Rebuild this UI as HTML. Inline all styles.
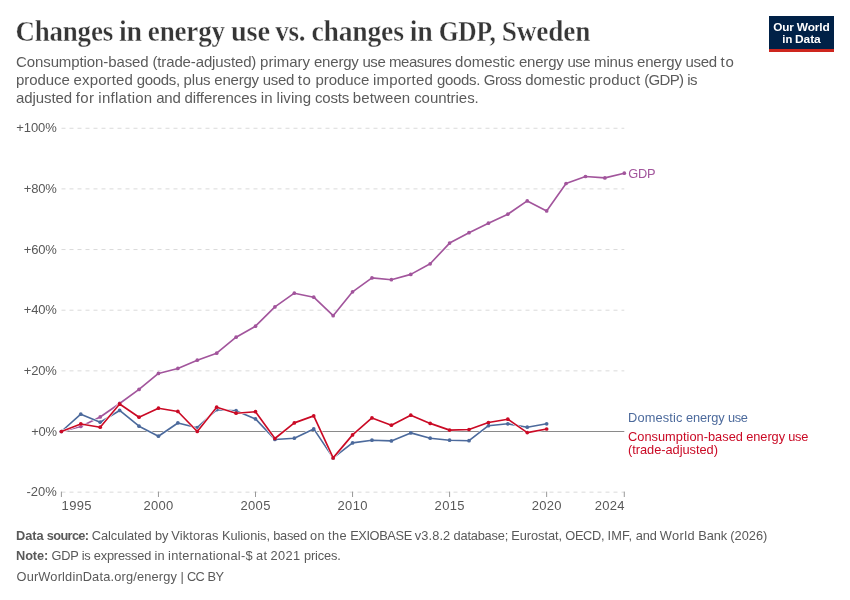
<!DOCTYPE html>
<html><head><meta charset="utf-8"><title>Changes in energy use vs. changes in GDP, Sweden</title>
<style>
html,body{margin:0;padding:0;background:#fff;}
body{width:850px;height:600px;position:relative;overflow:hidden;font-family:"Liberation Sans",sans-serif;}
svg{position:absolute;left:0;top:0;will-change:transform;}
text{white-space:pre;}
</style></head><body>
<svg width="850" height="600" viewBox="0 0 850 600">
<line x1="61.5" x2="624.3" y1="128.25" y2="128.25" stroke="#dadada" stroke-width="1" stroke-dasharray="4,4"/>
<line x1="61.5" x2="624.3" y1="188.9" y2="188.9" stroke="#dadada" stroke-width="1" stroke-dasharray="4,4"/>
<line x1="61.5" x2="624.3" y1="249.55" y2="249.55" stroke="#dadada" stroke-width="1" stroke-dasharray="4,4"/>
<line x1="61.5" x2="624.3" y1="310.2" y2="310.2" stroke="#dadada" stroke-width="1" stroke-dasharray="4,4"/>
<line x1="61.5" x2="624.3" y1="370.85" y2="370.85" stroke="#dadada" stroke-width="1" stroke-dasharray="4,4"/>
<line x1="61.5" x2="624.3" y1="492.15" y2="492.15" stroke="#dadada" stroke-width="1" stroke-dasharray="4,4"/>
<line x1="61.5" x2="624.3" y1="431.5" y2="431.5" stroke="#8a8a8a" stroke-width="1"/>
<line x1="61.4" x2="61.4" y1="491.6" y2="497" stroke="#999999" stroke-width="1"/>
<line x1="158.45" x2="158.45" y1="491.6" y2="497" stroke="#999999" stroke-width="1"/>
<line x1="255.5" x2="255.5" y1="491.6" y2="497" stroke="#999999" stroke-width="1"/>
<line x1="352.55" x2="352.55" y1="491.6" y2="497" stroke="#999999" stroke-width="1"/>
<line x1="449.6" x2="449.6" y1="491.6" y2="497" stroke="#999999" stroke-width="1"/>
<line x1="546.65" x2="546.65" y1="491.6" y2="497" stroke="#999999" stroke-width="1"/>
<line x1="624.29" x2="624.29" y1="491.6" y2="497" stroke="#999999" stroke-width="1"/>
<path d="M61.4,431.5 L80.81,426.45 L100.22,416.95 L119.63,403.45 L139.04,389.45 L158.45,373.45 L177.86,368.45 L197.27,360.2 L216.68,353.2 L236.09,337.2 L255.5,326.2 L274.91,306.9 L294.32,293.2 L313.73,297.2 L333.14,315.7 L352.55,291.8 L371.96,277.9 L391.37,279.7 L410.78,274.4 L430.19,263.8 L449.6,243.1 L469.01,232.7 L488.42,223.2 L507.83,214.2 L527.24,200.9 L546.65,210.9 L566.06,183.5 L585.47,176.5 L604.88,177.9 L624.29,173.2" fill="none" stroke="#fff" stroke-width="2.6" stroke-linejoin="round" stroke-linecap="round"/>
<path d="M61.4,431.5 L80.81,426.45 L100.22,416.95 L119.63,403.45 L139.04,389.45 L158.45,373.45 L177.86,368.45 L197.27,360.2 L216.68,353.2 L236.09,337.2 L255.5,326.2 L274.91,306.9 L294.32,293.2 L313.73,297.2 L333.14,315.7 L352.55,291.8 L371.96,277.9 L391.37,279.7 L410.78,274.4 L430.19,263.8 L449.6,243.1 L469.01,232.7 L488.42,223.2 L507.83,214.2 L527.24,200.9 L546.65,210.9 L566.06,183.5 L585.47,176.5 L604.88,177.9 L624.29,173.2" fill="none" stroke="#a2559c" stroke-width="1.65" stroke-linejoin="round" stroke-linecap="round"/>
<circle cx="61.4" cy="431.5" r="1.85" fill="#a2559c"/><circle cx="80.81" cy="426.45" r="1.85" fill="#a2559c"/><circle cx="100.22" cy="416.95" r="1.85" fill="#a2559c"/><circle cx="119.63" cy="403.45" r="1.85" fill="#a2559c"/><circle cx="139.04" cy="389.45" r="1.85" fill="#a2559c"/><circle cx="158.45" cy="373.45" r="1.85" fill="#a2559c"/><circle cx="177.86" cy="368.45" r="1.85" fill="#a2559c"/><circle cx="197.27" cy="360.2" r="1.85" fill="#a2559c"/><circle cx="216.68" cy="353.2" r="1.85" fill="#a2559c"/><circle cx="236.09" cy="337.2" r="1.85" fill="#a2559c"/><circle cx="255.5" cy="326.2" r="1.85" fill="#a2559c"/><circle cx="274.91" cy="306.9" r="1.85" fill="#a2559c"/><circle cx="294.32" cy="293.2" r="1.85" fill="#a2559c"/><circle cx="313.73" cy="297.2" r="1.85" fill="#a2559c"/><circle cx="333.14" cy="315.7" r="1.85" fill="#a2559c"/><circle cx="352.55" cy="291.8" r="1.85" fill="#a2559c"/><circle cx="371.96" cy="277.9" r="1.85" fill="#a2559c"/><circle cx="391.37" cy="279.7" r="1.85" fill="#a2559c"/><circle cx="410.78" cy="274.4" r="1.85" fill="#a2559c"/><circle cx="430.19" cy="263.8" r="1.85" fill="#a2559c"/><circle cx="449.6" cy="243.1" r="1.85" fill="#a2559c"/><circle cx="469.01" cy="232.7" r="1.85" fill="#a2559c"/><circle cx="488.42" cy="223.2" r="1.85" fill="#a2559c"/><circle cx="507.83" cy="214.2" r="1.85" fill="#a2559c"/><circle cx="527.24" cy="200.9" r="1.85" fill="#a2559c"/><circle cx="546.65" cy="210.9" r="1.85" fill="#a2559c"/><circle cx="566.06" cy="183.5" r="1.85" fill="#a2559c"/><circle cx="585.47" cy="176.5" r="1.85" fill="#a2559c"/><circle cx="604.88" cy="177.9" r="1.85" fill="#a2559c"/><circle cx="624.29" cy="173.2" r="1.85" fill="#a2559c"/>
<path d="M61.4,431.5 L80.81,414.2 L100.22,422.2 L119.63,410.45 L139.04,426.2 L158.45,436.2 L177.86,422.95 L197.27,427.7 L216.68,409.7 L236.09,410.7 L255.5,418.9 L274.91,439.5 L294.32,438.2 L313.73,428.9 L333.14,457.9 L352.55,442.9 L371.96,440.2 L391.37,440.9 L410.78,432.9 L430.19,438.2 L449.6,440.2 L469.01,440.7 L488.42,425.7 L507.83,423.8 L527.24,427.2 L546.65,423.8" fill="none" stroke="#fff" stroke-width="2.6" stroke-linejoin="round" stroke-linecap="round"/>
<path d="M61.4,431.5 L80.81,414.2 L100.22,422.2 L119.63,410.45 L139.04,426.2 L158.45,436.2 L177.86,422.95 L197.27,427.7 L216.68,409.7 L236.09,410.7 L255.5,418.9 L274.91,439.5 L294.32,438.2 L313.73,428.9 L333.14,457.9 L352.55,442.9 L371.96,440.2 L391.37,440.9 L410.78,432.9 L430.19,438.2 L449.6,440.2 L469.01,440.7 L488.42,425.7 L507.83,423.8 L527.24,427.2 L546.65,423.8" fill="none" stroke="#4c6a9c" stroke-width="1.65" stroke-linejoin="round" stroke-linecap="round"/>
<circle cx="61.4" cy="431.5" r="1.85" fill="#4c6a9c"/><circle cx="80.81" cy="414.2" r="1.85" fill="#4c6a9c"/><circle cx="100.22" cy="422.2" r="1.85" fill="#4c6a9c"/><circle cx="119.63" cy="410.45" r="1.85" fill="#4c6a9c"/><circle cx="139.04" cy="426.2" r="1.85" fill="#4c6a9c"/><circle cx="158.45" cy="436.2" r="1.85" fill="#4c6a9c"/><circle cx="177.86" cy="422.95" r="1.85" fill="#4c6a9c"/><circle cx="197.27" cy="427.7" r="1.85" fill="#4c6a9c"/><circle cx="216.68" cy="409.7" r="1.85" fill="#4c6a9c"/><circle cx="236.09" cy="410.7" r="1.85" fill="#4c6a9c"/><circle cx="255.5" cy="418.9" r="1.85" fill="#4c6a9c"/><circle cx="274.91" cy="439.5" r="1.85" fill="#4c6a9c"/><circle cx="294.32" cy="438.2" r="1.85" fill="#4c6a9c"/><circle cx="313.73" cy="428.9" r="1.85" fill="#4c6a9c"/><circle cx="333.14" cy="457.9" r="1.85" fill="#4c6a9c"/><circle cx="352.55" cy="442.9" r="1.85" fill="#4c6a9c"/><circle cx="371.96" cy="440.2" r="1.85" fill="#4c6a9c"/><circle cx="391.37" cy="440.9" r="1.85" fill="#4c6a9c"/><circle cx="410.78" cy="432.9" r="1.85" fill="#4c6a9c"/><circle cx="430.19" cy="438.2" r="1.85" fill="#4c6a9c"/><circle cx="449.6" cy="440.2" r="1.85" fill="#4c6a9c"/><circle cx="469.01" cy="440.7" r="1.85" fill="#4c6a9c"/><circle cx="488.42" cy="425.7" r="1.85" fill="#4c6a9c"/><circle cx="507.83" cy="423.8" r="1.85" fill="#4c6a9c"/><circle cx="527.24" cy="427.2" r="1.85" fill="#4c6a9c"/><circle cx="546.65" cy="423.8" r="1.85" fill="#4c6a9c"/>
<path d="M61.4,431.5 L80.81,423.95 L100.22,427.2 L119.63,403.95 L139.04,417.2 L158.45,408.2 L177.86,411.45 L197.27,431.45 L216.68,407.2 L236.09,413.2 L255.5,411.7 L274.91,438.5 L294.32,422.9 L313.73,415.9 L333.14,457.9 L352.55,434.9 L371.96,417.9 L391.37,425.2 L410.78,415.2 L430.19,423.4 L449.6,430.1 L469.01,429.5 L488.42,422.5 L507.83,419.2 L527.24,432.6 L546.65,429.0" fill="none" stroke="#fff" stroke-width="2.6" stroke-linejoin="round" stroke-linecap="round"/>
<path d="M61.4,431.5 L80.81,423.95 L100.22,427.2 L119.63,403.95 L139.04,417.2 L158.45,408.2 L177.86,411.45 L197.27,431.45 L216.68,407.2 L236.09,413.2 L255.5,411.7 L274.91,438.5 L294.32,422.9 L313.73,415.9 L333.14,457.9 L352.55,434.9 L371.96,417.9 L391.37,425.2 L410.78,415.2 L430.19,423.4 L449.6,430.1 L469.01,429.5 L488.42,422.5 L507.83,419.2 L527.24,432.6 L546.65,429.0" fill="none" stroke="#ca0a25" stroke-width="1.65" stroke-linejoin="round" stroke-linecap="round"/>
<circle cx="61.4" cy="431.5" r="1.85" fill="#ca0a25"/><circle cx="80.81" cy="423.95" r="1.85" fill="#ca0a25"/><circle cx="100.22" cy="427.2" r="1.85" fill="#ca0a25"/><circle cx="119.63" cy="403.95" r="1.85" fill="#ca0a25"/><circle cx="139.04" cy="417.2" r="1.85" fill="#ca0a25"/><circle cx="158.45" cy="408.2" r="1.85" fill="#ca0a25"/><circle cx="177.86" cy="411.45" r="1.85" fill="#ca0a25"/><circle cx="197.27" cy="431.45" r="1.85" fill="#ca0a25"/><circle cx="216.68" cy="407.2" r="1.85" fill="#ca0a25"/><circle cx="236.09" cy="413.2" r="1.85" fill="#ca0a25"/><circle cx="255.5" cy="411.7" r="1.85" fill="#ca0a25"/><circle cx="274.91" cy="438.5" r="1.85" fill="#ca0a25"/><circle cx="294.32" cy="422.9" r="1.85" fill="#ca0a25"/><circle cx="313.73" cy="415.9" r="1.85" fill="#ca0a25"/><circle cx="333.14" cy="457.9" r="1.85" fill="#ca0a25"/><circle cx="352.55" cy="434.9" r="1.85" fill="#ca0a25"/><circle cx="371.96" cy="417.9" r="1.85" fill="#ca0a25"/><circle cx="391.37" cy="425.2" r="1.85" fill="#ca0a25"/><circle cx="410.78" cy="415.2" r="1.85" fill="#ca0a25"/><circle cx="430.19" cy="423.4" r="1.85" fill="#ca0a25"/><circle cx="449.6" cy="430.1" r="1.85" fill="#ca0a25"/><circle cx="469.01" cy="429.5" r="1.85" fill="#ca0a25"/><circle cx="488.42" cy="422.5" r="1.85" fill="#ca0a25"/><circle cx="507.83" cy="419.2" r="1.85" fill="#ca0a25"/><circle cx="527.24" cy="432.6" r="1.85" fill="#ca0a25"/><circle cx="546.65" cy="429.0" r="1.85" fill="#ca0a25"/>
<rect x="769" y="16" width="65" height="36" fill="#ce261e"/><rect x="769" y="16" width="65" height="33" fill="#002147"/>
<text transform="translate(15.40 40.65) scale(0.9298 1)" font-family="'Liberation Serif', serif" font-size="29" font-weight="700" fill="#363636" stroke="#fff" stroke-width="0.36" letter-spacing="-0.2">Changes</text>
<text transform="translate(118.95 40.65) scale(0.9630 1)" font-family="'Liberation Serif', serif" font-size="29" font-weight="700" fill="#363636" stroke="#fff" stroke-width="0.36" letter-spacing="-0.2">in</text>
<text transform="translate(147.81 40.65) scale(0.9346 1)" font-family="'Liberation Serif', serif" font-size="29" font-weight="700" fill="#363636" stroke="#fff" stroke-width="0.36" letter-spacing="-0.2">energy</text>
<text transform="translate(230.91 40.65) scale(0.9816 1)" font-family="'Liberation Serif', serif" font-size="29" font-weight="700" fill="#363636" stroke="#fff" stroke-width="0.36" letter-spacing="-0.2">use</text>
<text transform="translate(275.14 40.65) scale(0.9337 1)" font-family="'Liberation Serif', serif" font-size="29" font-weight="700" fill="#363636" stroke="#fff" stroke-width="0.36" letter-spacing="-0.2">vs.</text>
<text transform="translate(311.38 40.65) scale(0.9540 1)" font-family="'Liberation Serif', serif" font-size="29" font-weight="700" fill="#363636" stroke="#fff" stroke-width="0.36" letter-spacing="-0.2">changes</text>
<text transform="translate(409.78 40.65) scale(0.9623 1)" font-family="'Liberation Serif', serif" font-size="29" font-weight="700" fill="#363636" stroke="#fff" stroke-width="0.36" letter-spacing="-0.2">in</text>
<text transform="translate(438.63 40.65) scale(0.8802 1)" font-family="'Liberation Serif', serif" font-size="29" font-weight="700" fill="#363636" stroke="#fff" stroke-width="0.36" letter-spacing="-0.2">GDP,</text>
<text transform="translate(501.81 40.65) scale(0.9420 1)" font-family="'Liberation Serif', serif" font-size="29" font-weight="700" fill="#363636" stroke="#fff" stroke-width="0.36" letter-spacing="-0.2">Sweden</text>
<text id="sub1" y="66.80" font-family="'Liberation Sans', sans-serif" font-size="15" font-weight="400" fill="#5b5b5b"><tspan x="16.00" letter-spacing="-0.097">Consumption-based</tspan><tspan x="152.44" letter-spacing="-0.132">(trade-adjusted)</tspan><tspan x="260.05" letter-spacing="0.011">primary</tspan><tspan x="313.97" letter-spacing="-0.201">energy</tspan><tspan x="362.47" letter-spacing="-0.464">use</tspan><tspan x="389.08" letter-spacing="-0.463">measures</tspan><tspan x="455.06" letter-spacing="0.006">domestic</tspan><tspan x="518.95" letter-spacing="-0.198">energy</tspan><tspan x="567.47" letter-spacing="-0.469">use</tspan><tspan x="594.08" letter-spacing="-0.166">minus</tspan><tspan x="637.08" letter-spacing="-0.198">energy</tspan><tspan x="685.59" letter-spacing="-0.336">used</tspan><tspan x="720.61" letter-spacing="0.672">to</tspan></text>
<text id="sub2" y="84.80" font-family="'Liberation Sans', sans-serif" font-size="15" font-weight="400" fill="#5b5b5b"><tspan x="16.00" letter-spacing="-0.062">produce</tspan><tspan x="73.61" letter-spacing="0.121">exported</tspan><tspan x="136.77" letter-spacing="-0.339">goods,</tspan><tspan x="183.59" letter-spacing="-0.176">plus</tspan><tspan x="214.25" letter-spacing="-0.201">energy</tspan><tspan x="262.75" letter-spacing="-0.336">used</tspan><tspan x="297.77" letter-spacing="0.672">to</tspan><tspan x="315.45" letter-spacing="-0.062">produce</tspan><tspan x="373.06" letter-spacing="0.203">imported</tspan><tspan x="436.88" letter-spacing="-0.318">goods.</tspan><tspan x="483.84" letter-spacing="-0.503">Gross</tspan><tspan x="525.16" letter-spacing="0.006">domestic</tspan><tspan x="589.06" letter-spacing="0.190">product</tspan><tspan x="644.27" letter-spacing="-0.681">(GDP)</tspan><tspan x="687.17" letter-spacing="-0.367">is</tspan></text>
<text id="sub3" y="102.80" font-family="'Liberation Sans', sans-serif" font-size="15" font-weight="400" fill="#5b5b5b"><tspan x="16.00" letter-spacing="-0.092">adjusted</tspan><tspan x="75.80" letter-spacing="0.391">for</tspan><tspan x="98.30" letter-spacing="0.276">inflation</tspan><tspan x="156.31" letter-spacing="-0.266">and</tspan><tspan x="184.38" letter-spacing="-0.051">differences</tspan><tspan x="260.75" letter-spacing="0.148">in</tspan><tspan x="276.56" letter-spacing="0.081">living</tspan><tspan x="315.05" letter-spacing="-0.219">costs</tspan><tspan x="352.80" letter-spacing="0.118">between</tspan><tspan x="414.16" letter-spacing="-0.047">countries.</tspan></text>
<text id="y100" y="132.20" font-family="'Liberation Sans', sans-serif" font-size="13" font-weight="400" fill="#585858"><tspan x="16.21" letter-spacing="-0.050">+100%</tspan></text>
<text id="y80" y="192.90" font-family="'Liberation Sans', sans-serif" font-size="13" font-weight="400" fill="#585858"><tspan x="23.75" letter-spacing="-0.145">+80%</tspan></text>
<text id="y60" y="253.50" font-family="'Liberation Sans', sans-serif" font-size="13" font-weight="400" fill="#585858"><tspan x="23.75" letter-spacing="-0.145">+60%</tspan></text>
<text id="y40" y="314.20" font-family="'Liberation Sans', sans-serif" font-size="13" font-weight="400" fill="#585858"><tspan x="23.75" letter-spacing="-0.145">+40%</tspan></text>
<text id="y20" y="374.90" font-family="'Liberation Sans', sans-serif" font-size="13" font-weight="400" fill="#585858"><tspan x="23.75" letter-spacing="-0.145">+20%</tspan></text>
<text id="y0" y="435.50" font-family="'Liberation Sans', sans-serif" font-size="13" font-weight="400" fill="#585858"><tspan x="31.30" letter-spacing="-0.297">+0%</tspan></text>
<text id="ym20" y="496.40" font-family="'Liberation Sans', sans-serif" font-size="13" font-weight="400" fill="#585858"><tspan x="26.46" letter-spacing="-0.004">-20%</tspan></text>
<text id="x1995" y="510.20" font-family="'Liberation Sans', sans-serif" font-size="13" font-weight="400" fill="#585858"><tspan x="61.60" letter-spacing="0.312">1995</tspan></text>
<text id="x2000" y="510.20" font-family="'Liberation Sans', sans-serif" font-size="13" font-weight="400" fill="#585858"><tspan x="143.46" letter-spacing="0.312">2000</tspan></text>
<text id="x2005" y="510.20" font-family="'Liberation Sans', sans-serif" font-size="13" font-weight="400" fill="#585858"><tspan x="240.51" letter-spacing="0.312">2005</tspan></text>
<text id="x2010" y="510.20" font-family="'Liberation Sans', sans-serif" font-size="13" font-weight="400" fill="#585858"><tspan x="337.56" letter-spacing="0.312">2010</tspan></text>
<text id="x2015" y="510.20" font-family="'Liberation Sans', sans-serif" font-size="13" font-weight="400" fill="#585858"><tspan x="434.61" letter-spacing="0.312">2015</tspan></text>
<text id="x2020" y="510.20" font-family="'Liberation Sans', sans-serif" font-size="13" font-weight="400" fill="#585858"><tspan x="531.66" letter-spacing="0.312">2020</tspan></text>
<text id="x2024" y="510.20" font-family="'Liberation Sans', sans-serif" font-size="13" font-weight="400" fill="#585858"><tspan x="594.73" letter-spacing="0.312">2024</tspan></text>
<text id="lgdp" y="177.80" font-family="'Liberation Sans', sans-serif" font-size="12.8" font-weight="400" fill="#a2559c"><tspan x="628.20" letter-spacing="-0.177">GDP</tspan></text>
<text id="ldom" y="421.80" font-family="'Liberation Sans', sans-serif" font-size="12.8" font-weight="400" fill="#4c6a9c"><tspan x="628.00" letter-spacing="0.154">Domestic</tspan><tspan x="685.89" letter-spacing="-0.070">energy</tspan><tspan x="727.92" letter-spacing="-0.297">use</tspan></text>
<text id="lcon1" y="440.50" font-family="'Liberation Sans', sans-serif" font-size="12.8" font-weight="400" fill="#ca0a25"><tspan x="628.00" letter-spacing="0.024">Consumption-based</tspan><tspan x="746.25" letter-spacing="-0.070">energy</tspan><tspan x="788.28" letter-spacing="-0.297">use</tspan></text>
<text id="lcon2" y="454.20" font-family="'Liberation Sans', sans-serif" font-size="12.8" font-weight="400" fill="#ca0a25"><tspan x="628.00" letter-spacing="-0.025">(trade-adjusted)</tspan></text>
<text id="f1" y="540.45" font-family="'Liberation Sans', sans-serif" font-size="12.8" font-weight="400" fill="#595959"><tspan x="16.00" letter-spacing="-0.020" font-weight="700">Data</tspan><tspan x="46.81" letter-spacing="-0.658" font-weight="700">source:</tspan><tspan x="91.75" letter-spacing="-0.056">Calculated</tspan><tspan x="154.97" letter-spacing="0.000">by</tspan><tspan x="171.33" letter-spacing="0.156">Viktoras</tspan><tspan x="221.89" letter-spacing="-0.035">Kulionis,</tspan><tspan x="273.27" letter-spacing="-0.269">based</tspan><tspan x="310.11" letter-spacing="0.203">on</tspan><tspan x="328.06" letter-spacing="0.333">the</tspan><tspan x="350.17" letter-spacing="-0.387">EXIOBASE</tspan><tspan x="414.81" letter-spacing="0.099">v3.8.2</tspan><tspan x="453.59" letter-spacing="-0.198">database;</tspan><tspan x="511.34" letter-spacing="-0.069">Eurostat,</tspan><tspan x="565.25" letter-spacing="-0.325">OECD,</tspan><tspan x="607.47" letter-spacing="0.172">IMF,</tspan><tspan x="635.64" letter-spacing="-0.115">and</tspan><tspan x="659.78" letter-spacing="0.403">World</tspan><tspan x="698.30" letter-spacing="-0.137">Bank</tspan><tspan x="730.23" letter-spacing="0.021">(2026)</tspan></text>
<text id="f2" y="560.40" font-family="'Liberation Sans', sans-serif" font-size="12.8" font-weight="400" fill="#595959"><tspan x="16.00" letter-spacing="-0.094" font-weight="700">Note:</tspan><tspan x="51.55" letter-spacing="-0.292">GDP</tspan><tspan x="81.72" letter-spacing="-0.242">is</tspan><tspan x="93.80" letter-spacing="-0.196">expressed</tspan><tspan x="154.39" letter-spacing="0.211">in</tspan><tspan x="168.09" letter-spacing="0.239">international-$</tspan><tspan x="256.09" letter-spacing="0.180">at</tspan><tspan x="270.45" letter-spacing="0.426">2021</tspan><tspan x="303.94" letter-spacing="-0.127">prices.</tspan></text>
<text id="f3" y="581.15" font-family="'Liberation Sans', sans-serif" font-size="12.8" font-weight="400" fill="#595959"><tspan x="16.50" letter-spacing="0.173">OurWorldinData.org/energy</tspan><tspan x="180.39" letter-spacing="-0.062">|</tspan><tspan x="186.97" letter-spacing="-0.641">CC</tspan><tspan x="207.48" letter-spacing="-0.422">BY</tspan></text>
<text transform="translate(773.25 31.40) scale(0.9971 1)" font-family="'Liberation Sans', sans-serif" font-size="11.8" font-weight="700" fill="#ffffff" letter-spacing="-0.1">Our</text>
<text transform="translate(796.69 31.40) scale(1.0110 1)" font-family="'Liberation Sans', sans-serif" font-size="11.8" font-weight="700" fill="#ffffff" letter-spacing="-0.1">World</text>
<text transform="translate(782.36 42.80) scale(0.9556 1)" font-family="'Liberation Sans', sans-serif" font-size="11.8" font-weight="700" fill="#ffffff" letter-spacing="-0.1">in</text>
<text transform="translate(795.08 42.80) scale(1.0153 1)" font-family="'Liberation Sans', sans-serif" font-size="11.8" font-weight="700" fill="#ffffff" letter-spacing="-0.1">Data</text>
</svg>
</body></html>
